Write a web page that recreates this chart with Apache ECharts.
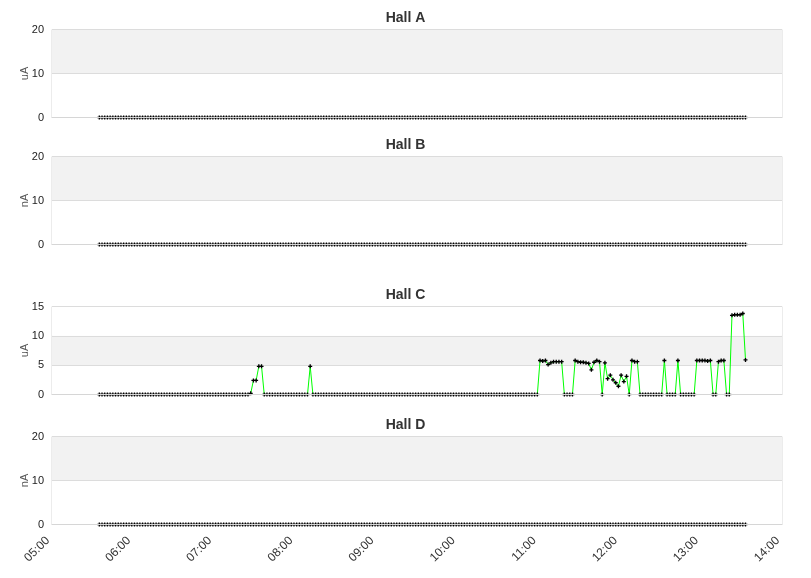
<!DOCTYPE html>
<html>
<head>
<meta charset="utf-8">
<script src="https://cdn.jsdelivr.net/npm/echarts@6/dist/echarts.min.js"></script>
<style>
    html, body { margin: 0; padding: 0; background: #fff; }
    #main { width: 811px; height: 578px; }
</style>
</head>
<body>
<div id="main"></div>
<script>
    // readings every 2 minutes, first one at 05:35 (minutes since midnight)
    var startMinute = 335;
    var stepMinutes = 2;

    var hallNames = ['Hall A', 'Hall B', 'Hall C', 'Hall D'];
    var hallUnits = ['uA', 'nA', 'uA', 'nA'];
    var yMax = [20, 20, 15, 20];
    var yStep = [10, 10, 5, 10];

    var hallA = [
        0,0,0,0,0,0,0,0,0,0,0,0,0,0,0,0,0,0,0,0,
        0,0,0,0,0,0,0,0,0,0,0,0,0,0,0,0,0,0,0,0,
        0,0,0,0,0,0,0,0,0,0,0,0,0,0,0,0,0,0,0,0,
        0,0,0,0,0,0,0,0,0,0,0,0,0,0,0,0,0,0,0,0,
        0,0,0,0,0,0,0,0,0,0,0,0,0,0,0,0,0,0,0,0,
        0,0,0,0,0,0,0,0,0,0,0,0,0,0,0,0,0,0,0,0,
        0,0,0,0,0,0,0,0,0,0,0,0,0,0,0,0,0,0,0,0,
        0,0,0,0,0,0,0,0,0,0,0,0,0,0,0,0,0,0,0,0,
        0,0,0,0,0,0,0,0,0,0,0,0,0,0,0,0,0,0,0,0,
        0,0,0,0,0,0,0,0,0,0,0,0,0,0,0,0,0,0,0,0,
        0,0,0,0,0,0,0,0,0,0,0,0,0,0,0,0,0,0,0,0,
        0,0,0,0,0,0,0,0,0,0,0,0,0,0,0,0,0,0,0,0
    ];
    var hallB = [
        0,0,0,0,0,0,0,0,0,0,0,0,0,0,0,0,0,0,0,0,
        0,0,0,0,0,0,0,0,0,0,0,0,0,0,0,0,0,0,0,0,
        0,0,0,0,0,0,0,0,0,0,0,0,0,0,0,0,0,0,0,0,
        0,0,0,0,0,0,0,0,0,0,0,0,0,0,0,0,0,0,0,0,
        0,0,0,0,0,0,0,0,0,0,0,0,0,0,0,0,0,0,0,0,
        0,0,0,0,0,0,0,0,0,0,0,0,0,0,0,0,0,0,0,0,
        0,0,0,0,0,0,0,0,0,0,0,0,0,0,0,0,0,0,0,0,
        0,0,0,0,0,0,0,0,0,0,0,0,0,0,0,0,0,0,0,0,
        0,0,0,0,0,0,0,0,0,0,0,0,0,0,0,0,0,0,0,0,
        0,0,0,0,0,0,0,0,0,0,0,0,0,0,0,0,0,0,0,0,
        0,0,0,0,0,0,0,0,0,0,0,0,0,0,0,0,0,0,0,0,
        0,0,0,0,0,0,0,0,0,0,0,0,0,0,0,0,0,0,0,0
    ];
    var hallC = [
        0,0,0,0,0,0,0,0,0,0,0,0,0,0,0,0,0,0,0,0,
        0,0,0,0,0,0,0,0,0,0,0,0,0,0,0,0,0,0,0,0,
        0,0,0,0,0,0,0,0,0,0,0,0,0,0,0,0,0.2,2.4,2.4,4.8,
        4.8,0,0,0,0,0,0,0,0,0,0,0,0,0,0,0,0,0,4.8,0,
        0,0,0,0,0,0,0,0,0,0,0,0,0,0,0,0,0,0,0,0,
        0,0,0,0,0,0,0,0,0,0,0,0,0,0,0,0,0,0,0,0,
        0,0,0,0,0,0,0,0,0,0,0,0,0,0,0,0,0,0,0,0,
        0,0,0,0,0,0,0,0,0,0,0,0,0,0,0,0,0,0,0,0,
        0,0,0,5.8,5.7,5.8,5.1,5.4,5.6,5.6,5.6,5.6,0,0,0,0,5.8,5.6,5.5,5.5,
        5.4,5.3,4.2,5.5,5.8,5.6,0,5.4,2.7,3.3,2.5,2.0,1.4,3.3,2.2,3.1,0,5.8,5.6,5.6,
        0,0,0,0,0,0,0,0,0,5.8,0,0,0,0,5.8,0,0,0,0,0,
        0,5.8,5.8,5.8,5.8,5.7,5.8,0,0,5.6,5.8,5.8,0,0,13.5,13.6,13.6,13.6,13.8,5.9
    ];
    var hallD = [
        0,0,0,0,0,0,0,0,0,0,0,0,0,0,0,0,0,0,0,0,
        0,0,0,0,0,0,0,0,0,0,0,0,0,0,0,0,0,0,0,0,
        0,0,0,0,0,0,0,0,0,0,0,0,0,0,0,0,0,0,0,0,
        0,0,0,0,0,0,0,0,0,0,0,0,0,0,0,0,0,0,0,0,
        0,0,0,0,0,0,0,0,0,0,0,0,0,0,0,0,0,0,0,0,
        0,0,0,0,0,0,0,0,0,0,0,0,0,0,0,0,0,0,0,0,
        0,0,0,0,0,0,0,0,0,0,0,0,0,0,0,0,0,0,0,0,
        0,0,0,0,0,0,0,0,0,0,0,0,0,0,0,0,0,0,0,0,
        0,0,0,0,0,0,0,0,0,0,0,0,0,0,0,0,0,0,0,0,
        0,0,0,0,0,0,0,0,0,0,0,0,0,0,0,0,0,0,0,0,
        0,0,0,0,0,0,0,0,0,0,0,0,0,0,0,0,0,0,0,0,
        0,0,0,0,0,0,0,0,0,0,0,0,0,0,0,0,0,0,0,0
    ];
    var hallValues = [hallA, hallB, hallC, hallD];

    // half-pixel tops so the zero line sits on one pixel row under the axis line
    var gridTops = [29.5, 156.5, 306.5, 436.5];
    var titleTops = [11, 138, 288, 418];

    function pad(n) {
        return (n < 10 ? '0' : '') + n;
    }
    function minuteLabel(v) {
        return pad(Math.floor(v / 60)) + ':' + pad(v % 60);
    }

    var plusMark = 'path://M1,0H2V1H3V2H2V3H1V2H0V1H1Z';
    var font = 'Liberation Sans, Arial, sans-serif';

    var titles = [], grids = [], xAxes = [], yAxes = [], series = [];
    for (var k = 0; k < 4; k++) {
        titles.push({
            text: hallNames[k],
            left: 'center',
            top: titleTops[k],
            padding: 0,
            textStyle: { fontFamily: font, fontSize: 14, fontWeight: 'bold', color: '#333' }
        });
        grids.push({
            left: 52, right: 29, top: gridTops[k], height: 88,
            show: true, borderColor: '#d9d9d9', borderWidth: 1, backgroundColor: 'transparent'
        });
        xAxes.push({
            type: 'value',
            gridIndex: k,
            min: 300,
            max: 840,
            interval: 60,
            z: 3,
            axisLine: { show: true, lineStyle: { color: '#d6d6d6', width: 1 } },
            axisTick: { show: false },
            splitLine: { show: false },
            axisLabel: {
                show: k === 3,
                rotate: 45,
                margin: 10,
                padding: [0, 6, 0, 0],
                fontFamily: font,
                fontSize: 12,
                color: '#333',
                formatter: minuteLabel
            }
        });
        yAxes.push({
            type: 'value',
            gridIndex: k,
            min: 0,
            max: yMax[k],
            interval: yStep[k],
            name: hallUnits[k],
            nameLocation: 'middle',
            nameRotate: 90,
            nameGap: 22,
            nameMoveOverlap: false,
            nameTextStyle: { fontFamily: font, fontSize: 11, color: '#555' },
            axisLine: { show: false },
            axisTick: { show: false },
            axisLabel: { fontFamily: font, fontSize: 11, color: '#222', margin: 8 },
            splitLine: { show: true, lineStyle: { color: '#dcdcdc' } },
            splitArea: { show: true, areaStyle: { color: ['#ffffff', '#f2f2f2'] } }
        });
        var vals = hallValues[k];
        series.push({
            type: 'line',
            xAxisIndex: k,
            yAxisIndex: k,
            z: 2,
            data: vals.map(function (v, i) { return [startMinute + i * stepMinutes, v]; }),
            symbol: plusMark,
            symbolSize: 4,
            showAllSymbol: true,
            lineStyle: { color: '#00ff00', width: 1 },
            itemStyle: { color: '#000' }
        });
    }

    var chart = echarts.init(document.getElementById('main'));
    chart.setOption({
        animation: false,
        backgroundColor: '#fff',
        title: titles,
        grid: grids,
        xAxis: xAxes,
        yAxis: yAxes,
        series: series
    });
</script>
</body>
</html>
